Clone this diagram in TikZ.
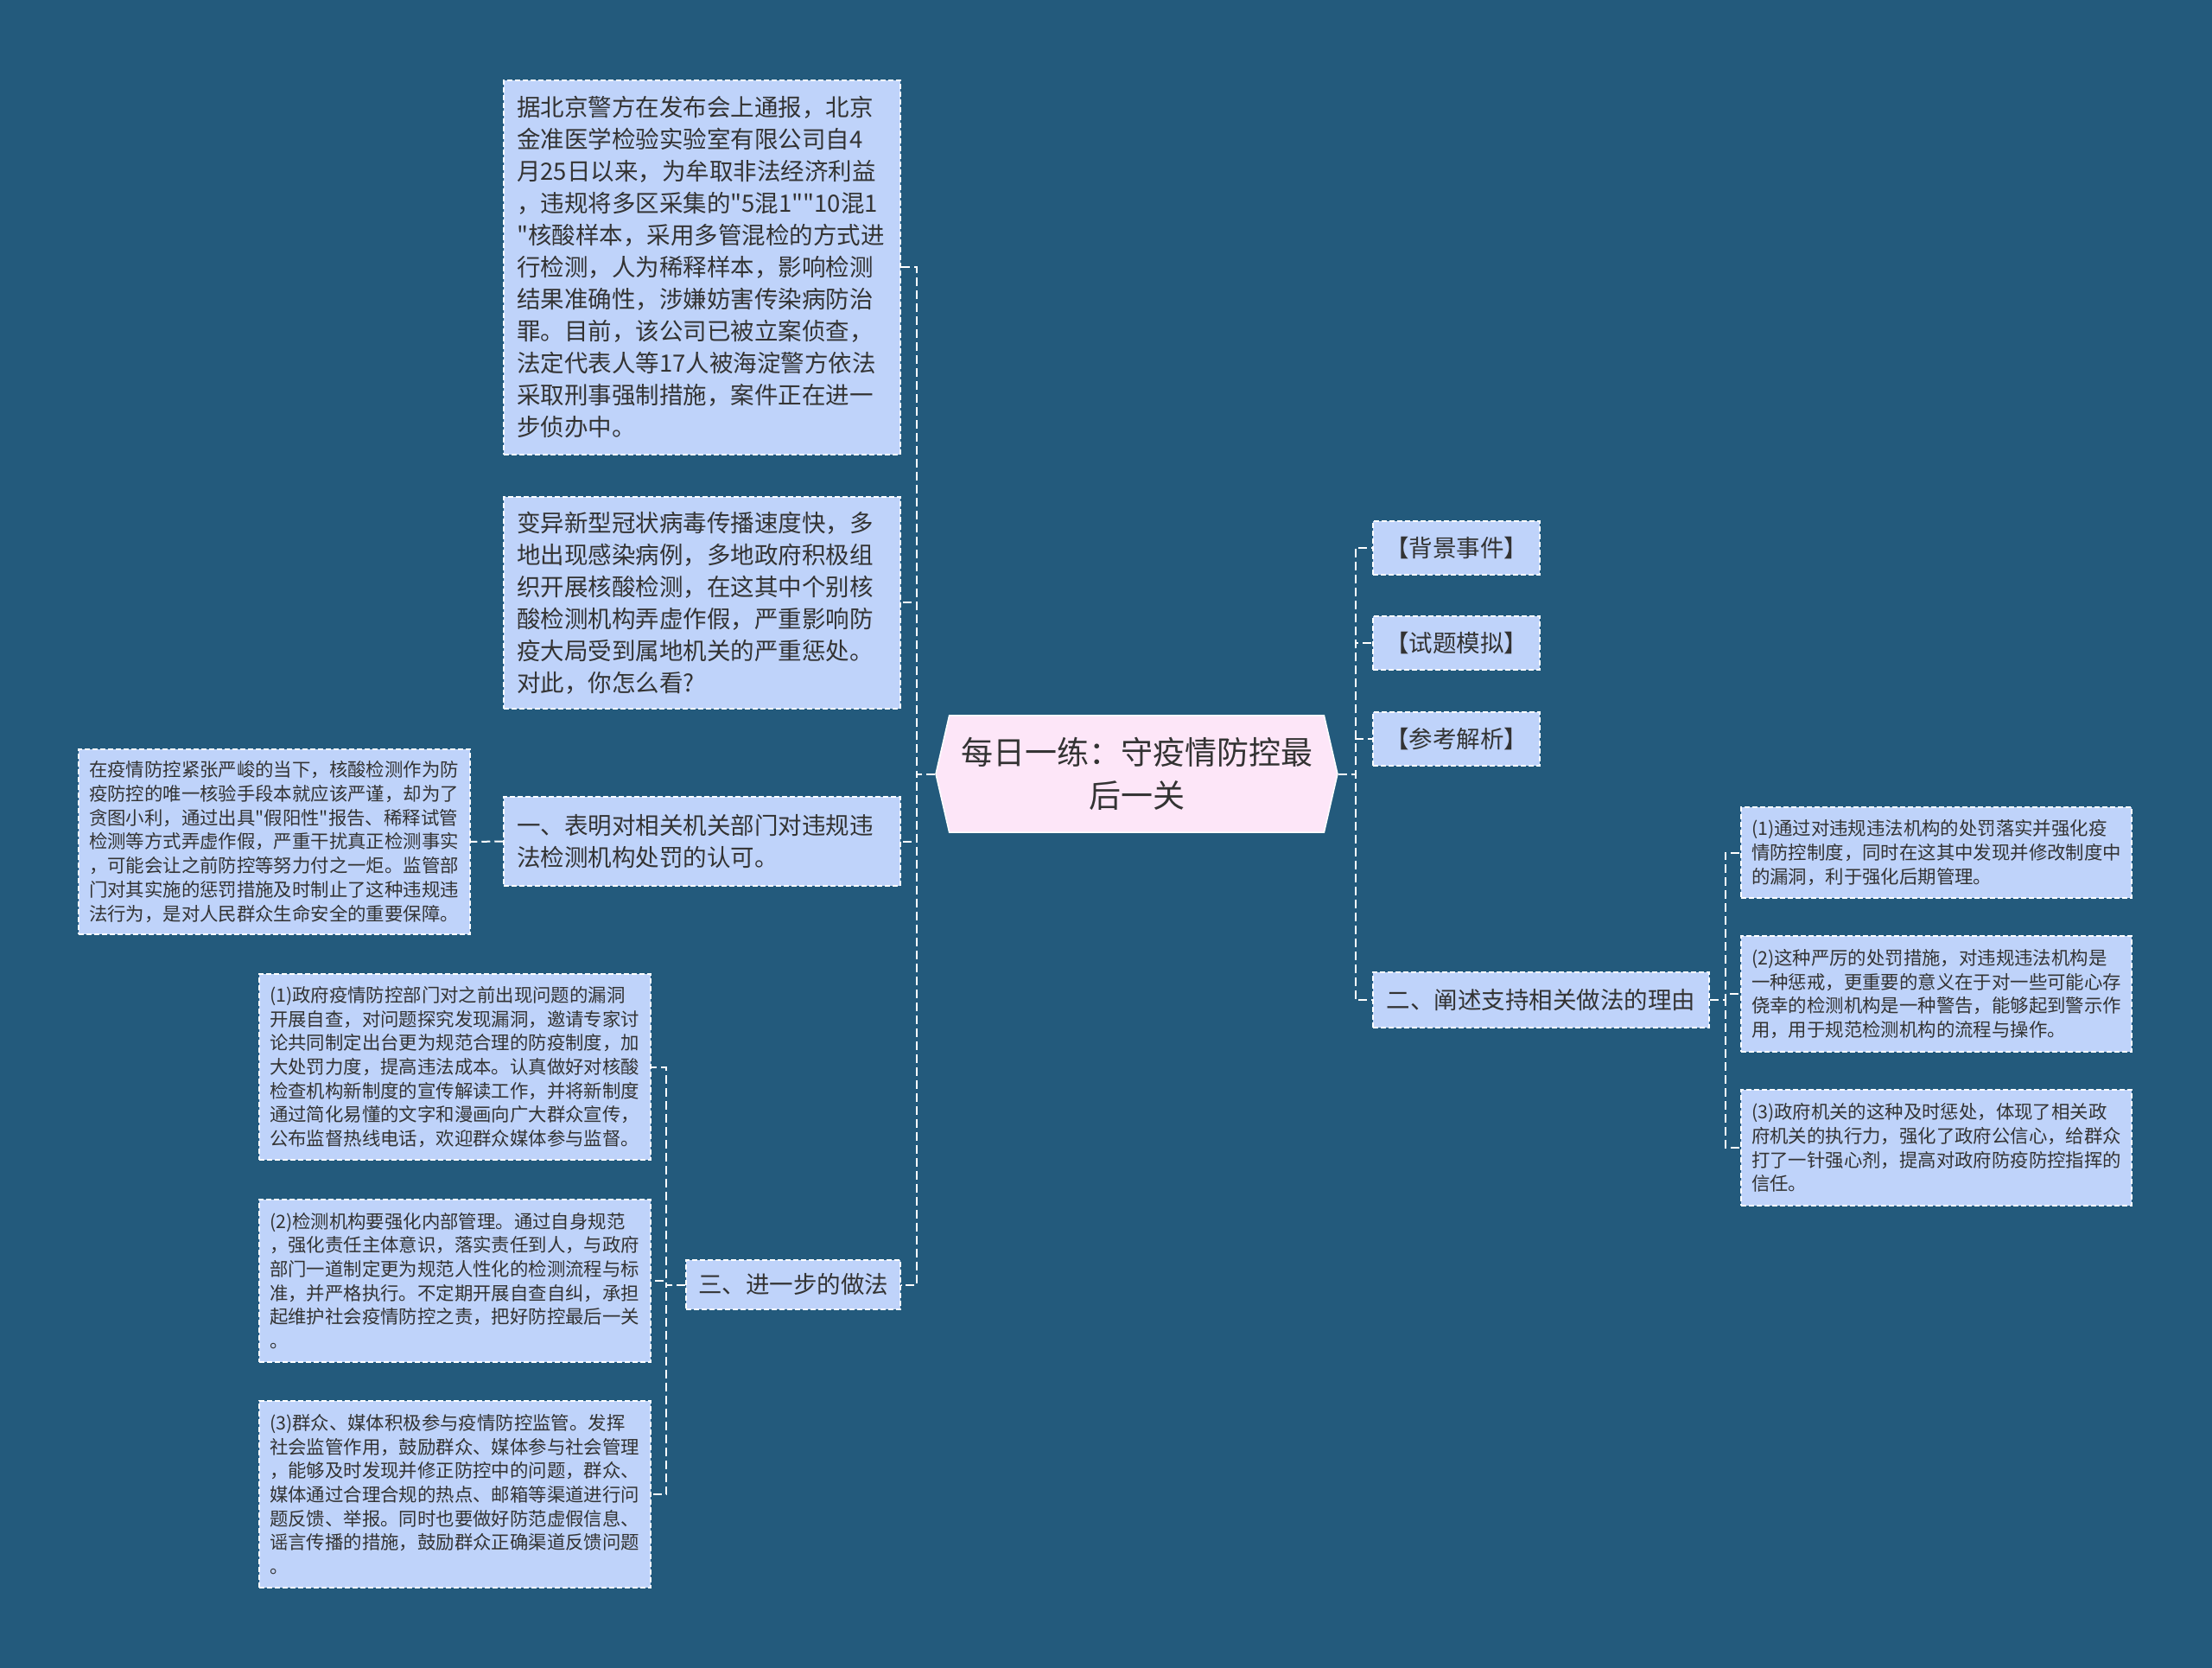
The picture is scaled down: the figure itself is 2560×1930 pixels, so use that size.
\documentclass[tikz,border=0pt]{standalone}
\usepackage{fontspec}
\setmainfont{Noto Sans CJK SC}[Ligatures=TeXOff]
\usetikzlibrary{shapes.symbols}
\definecolor{bgblue}{HTML}{235A7C}
\definecolor{boxblue}{HTML}{BFD3FA}
\definecolor{rootpink}{HTML}{FDE6F8}
\definecolor{inkgray}{HTML}{333333}
\newcommand\bigtxt{\fontsize{13.75pt}{18.5pt}\selectfont}
\newcommand\smalltxt{\fontsize{10.7pt}{13.85pt}\selectfont}
\newcommand\roottxt{\fontsize{18.5pt}{25pt}\selectfont}

\begin{document}
\begin{tikzpicture}[x=0.5pt,y=-0.5pt,
    box/.style={draw=white,line width=0.75pt,dash pattern=on 3pt off 1.5pt,
      fill=boxblue,text=inkgray,inner ysep=0pt,align=left},
    bigbox/.style={box,font=\bigtxt,inner xsep=7.5pt},
    smallbox/.style={box,font=\smalltxt,inner xsep=6pt},
    tagbox/.style={box,font=\bigtxt,inner xsep=0pt,align=center},
    root/.style={signal,signal to=west and east,signal pointer angle=154,
      fill=rootpink,draw=white,line width=0.75pt,text=inkgray,font=\roottxt,
      align=center,inner sep=0pt,minimum width=232.5pt,minimum height=67.5pt},
    link/.style={draw=white,line width=1pt,dash pattern=on 5pt off 2.5pt}]
  \fill[bgblue] (0,0) rectangle (2560,1930);

  % centre
  \node[root] (root) at (1315.5,895.5) {每日一练：守疫情防控最\\后一关};

  % left branch
  \node[bigbox,text width=214.5pt,minimum height=216.5pt] (news) at (812.5,309.5)
    {据北京警方在发布会上通报，北京\\金准医学检验实验室有限公司自4\\月25日以来，为牟取非法经济利益\\，违规将多区采集的"5混1""10混1\\"核酸样本，采用多管混检的方式进\\行检测，人为稀释样本，影响检测\\结果准确性，涉嫌妨害传染病防治\\罪。目前，该公司已被立案侦查，\\法定代表人等17人被海淀警方依法\\采取刑事强制措施，案件正在进一\\步侦办中。};
  \node[bigbox,text width=214.5pt,minimum height=122.5pt] (ask) at (812.5,697.5)
    {变异新型冠状病毒传播速度快，多\\地出现感染病例，多地政府积极组\\织开展核酸检测，在这其中个别核\\酸检测机构弄虚作假，严重影响防\\疫大局受到属地机关的严重惩处。\\对此，你怎么看?};
  \node[bigbox,text width=214.5pt,minimum height=51.5pt] (partone) at (812.5,973.5)
    {一、表明对相关机关部门对违规违\\法检测机构处罚的认可。};
  \node[smallbox,text width=214.5pt,minimum height=107pt] (onenote) at (317.5,974)
    {在疫情防控紧张严峻的当下，核酸检测作为防\\疫防控的唯一核验手段本就应该严谨，却为了\\贪图小利，通过出具"假阳性"报告、稀释试管\\检测等方式弄虚作假，严重干扰真正检测事实\\，可能会让之前防控等努力付之一炬。监管部\\门对其实施的惩罚措施及时制止了这种违规违\\法行为，是对人民群众生命安全的重要保障。};
  \node[tagbox,minimum width=124pt,minimum height=28.5pt] (partthree) at (918,1486.5)
    {三、进一步的做法};
  \node[smallbox,text width=214.5pt,minimum height=107.5pt] (threea) at (526.5,1234.5)
    {(1)政府疫情防控部门对之前出现问题的漏洞\\开展自查，对问题探究发现漏洞，邀请专家讨\\论共同制定出台更为规范合理的防疫制度，加\\大处罚力度，提高违法成本。认真做好对核酸\\检查机构新制度的宣传解读工作，并将新制度\\通过简化易懂的文字和漫画向广大群众宣传，\\公布监督热线电话，欢迎群众媒体参与监督。};
  \node[smallbox,text width=214.5pt,minimum height=94pt] (threeb) at (526.5,1482)
    {(2)检测机构要强化内部管理。通过自身规范\\，强化责任主体意识，落实责任到人，与政府\\部门一道制定更为规范人性化的检测流程与标\\准，并严格执行。不定期开展自查自纠，承担\\起维护社会疫情防控之责，把好防控最后一关\\。};
  \node[smallbox,text width=214.5pt,minimum height=108pt] (threec) at (526.5,1729)
    {(3)群众、媒体积极参与疫情防控监管。发挥\\社会监管作用，鼓励群众、媒体参与社会管理\\，能够及时发现并修正防控中的问题，群众、\\媒体通过合理合规的热点、邮箱等渠道进行问\\题反馈、举报。同时也要做好防范虚假信息、\\谣言传播的措施，鼓励群众正确渠道反馈问题\\。};

  % right branch
  \node[tagbox,minimum width=96.5pt,minimum height=31pt] (bgtag) at (1685.5,634) {【背景事件】};
  \node[tagbox,minimum width=96.5pt,minimum height=31pt] (simtag) at (1685.5,744) {【试题模拟】};
  \node[tagbox,minimum width=96.5pt,minimum height=31pt] (keytag) at (1685.5,855) {【参考解析】};
  \node[tagbox,minimum width=194.5pt,minimum height=32pt] (parttwo) at (1783.5,1157)
    {二、阐述支持相关做法的理由};
  \node[smallbox,text width=214pt,minimum height=52.5pt] (twoa) at (2241,986.5)
    {(1)通过对违规违法机构的处罚落实并强化疫\\情防控制度，同时在这其中发现并修改制度中\\的漏洞，利于强化后期管理。};
  \node[smallbox,text width=214pt,minimum height=67pt] (twob) at (2241,1150)
    {(2)这种严厉的处罚措施，对违规违法机构是\\一种惩戒，更重要的意义在于对一些可能心存\\侥幸的检测机构是一种警告，能够起到警示作\\用，用于规范检测机构的流程与操作。};
  \node[smallbox,text width=214pt,minimum height=67pt] (twoc) at (2241,1328)
    {(3)政府机关的这种及时惩处，体现了相关政\\府机关的执行力，强化了政府公信心，给群众\\打了一针强心剂，提高对政府防疫防控指挥的\\信任。};

  % connectors
  \foreach \n in {news,ask,partone,partthree}
    \draw[link] (root.west) -- ++(-21,0) |- (\n.east);
  \draw[link] (partone.west) -- (onenote.east);
  \foreach \n in {threea,threeb,threec}
    \draw[link] (partthree.west) -- ++(-22,0) |- (\n.east);
  \foreach \n in {bgtag,simtag,keytag,parttwo}
    \draw[link] (root.east) -- ++(20,0) |- (\n.west);
  \foreach \n in {twoa,twob,twoc}
    \draw[link] (parttwo.east) -- ++(18,0) |- (\n.west);
\end{tikzpicture}
\end{document}
